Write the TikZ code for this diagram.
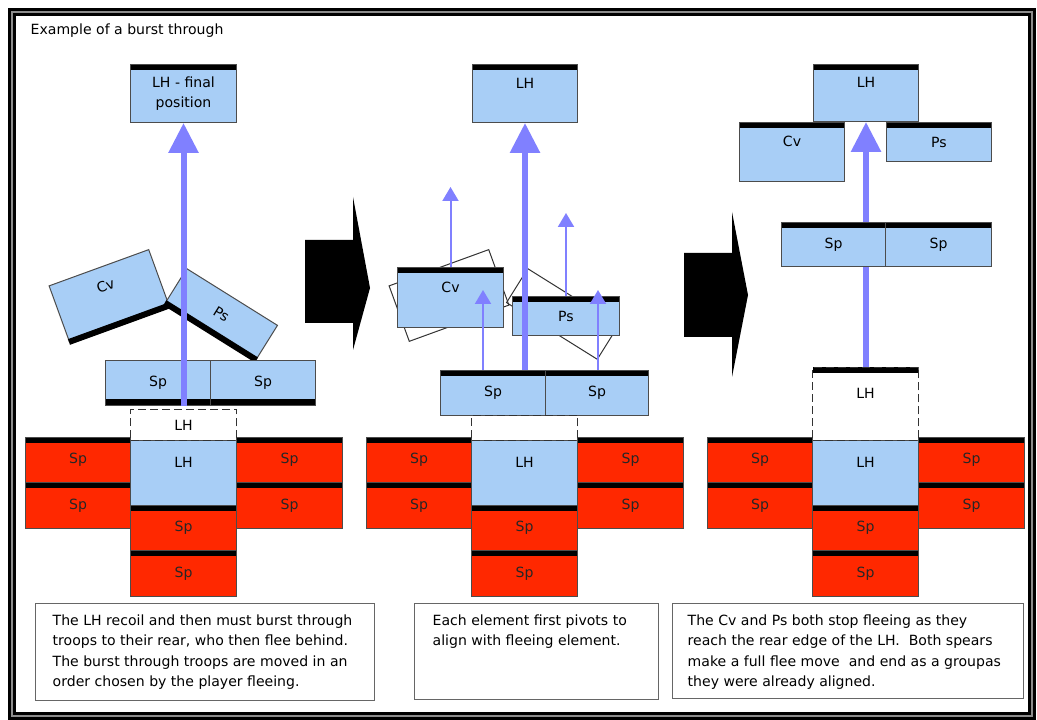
\documentclass[tikz,border=0pt]{standalone}
\usepackage{fontspec}
\setmainfont{DejaVu Sans}
\usetikzlibrary{arrows.meta}
\definecolor{lhblue}{RGB}{168,206,246}
\definecolor{spred}{RGB}{255,40,0}
\definecolor{flee}{RGB}{128,128,255}
\newcommand{\lbl}{\fontsize{4}{5.8}\selectfont}
\tikzset{
  elem/.style={draw=black!70, line width=0.01cm, inner sep=0pt, anchor=north west, align=center, font=\lbl},
  elsize/.style 2 args={minimum width=#1cm, minimum height=#2cm},
  lhb/.style={elem, fill=lhblue},
  spr/.style={elem, fill=spred, text=black!85},
  upper/.style={text height=1mm, text depth=2mm},
  frontN/.style={path picture={\fill[black] (path picture bounding box.north west) rectangle ([yshift=-0.6mm]path picture bounding box.north east);}},
  frontS/.style={path picture={\fill[black] (path picture bounding box.south west) rectangle ([yshift=0.6mm]path picture bounding box.south east);}},
  edge/.style={line width=0.06cm},
  oldpos/.style={elem, draw=black!80, dash pattern=on 0.8mm off 0.4mm},
  ghost/.style={draw=black!80, line width=0.01cm, inner sep=0pt, anchor=center},
  bigflee/.style={draw=flee, line width=0.06cm, -{Triangle[width=2.9mm,length=3mm,fill=flee]}},
  smallflee/.style={draw=flee, line width=0.02cm, -{Triangle[width=1.6mm,length=1.4mm,fill=flee]}},
  notebox/.style={draw=black!60, line width=0.01cm, inner sep=0pt, anchor=north west},
  notetext/.style={inner sep=0pt, anchor=north west, align=left, font=\lbl}
}
\begin{document}
\begin{tikzpicture}
\useasboundingbox (0,0) rectangle (10.37,7.20);
%\draw[step=1cm,gray,very thin] (0,0) grid (10,7);
\draw[line width=0.08cm] (0.12,0.04) rectangle (10.32,7.075);
\draw[black!45, line width=0.02cm] (0.12,0.04) rectangle (10.32,7.075);
\node[anchor=west, font=\lbl, inner sep=0pt] (title) at (0.30,6.89) {Example of a burst through};
%.............................
\foreach \p/\dx in {1/0,2/3.41,3/6.82}{
  \node[lhb, upper, elsize={1.06}{0.65}] (lh\p) at (1.30+\dx,2.80) {LH};
  \node[spr, frontN, elsize={1.05}{0.45}] (l\p a) at (0.25+\dx,2.83) {Sp};
  \node[spr, frontN, elsize={1.05}{0.46}] (l\p b) at (0.25+\dx,2.38) {Sp};
  \node[spr, frontN, elsize={1.06}{0.45}] (r\p a) at (2.36+\dx,2.83) {Sp};
  \node[spr, frontN, elsize={1.06}{0.46}] (r\p b) at (2.36+\dx,2.38) {Sp};
  \node[spr, frontN, elsize={1.06}{0.45}] (c\p a) at (1.30+\dx,2.15) {Sp};
  \node[spr, frontN, elsize={1.06}{0.46}] (c\p b) at (1.30+\dx,1.70) {Sp};
}
%.............................
\node[lhb, frontN, elsize={1.06}{0.58}] (p1lh) at (1.30,6.56) {LH - final\\position};
\node[lhb, upper, anchor=center, rotate=20, elsize={1.06}{0.59}] (p1cv) at (1.09,4.245) {Cv};
\node[lhb, anchor=center, rotate=-32, elsize={1.07}{0.40}] (p1ps) at (2.215,4.06) {Ps};
\draw[edge] (p1cv.south west) -- (p1cv.south east);
\draw[edge] (p1ps.south west) -- (p1ps.south east);
\node[lhb, frontS, elsize={1.05}{0.45}] (p1spa) at (1.05,3.60) {Sp};
\node[lhb, frontS, elsize={1.05}{0.45}] (p1spb) at (2.10,3.60) {Sp};
\node[oldpos, elsize={1.06}{0.31}] (p1old) at (1.30,3.11) {LH};
\draw[bigflee] (p1lh.south |- p1spa.south) -- (p1lh.south);
\fill (3.05,4.80)--(3.53,4.80)--(3.53,5.23)--(3.70,4.32)--(3.53,3.70)--(3.53,3.97)--(3.05,3.97)--cycle;
%.............................
\node[lhb, frontN, upper, elsize={1.05}{0.58}] (p2lh) at (4.72,6.56) {LH};
\node[ghost, rotate=20, elsize={1.06}{0.59}] (p2cvold) at (4.49,4.245) {};
\node[ghost, rotate=-32, elsize={1.07}{0.40}] (p2psold) at (5.625,4.06) {};
\node[lhb, frontN, upper, elsize={1.06}{0.60}] (p2cv) at (3.97,4.53) {Cv};
\node[lhb, frontN, elsize={1.07}{0.39}] (p2ps) at (5.12,4.24) {Ps};
\node[lhb, frontN, elsize={1.05}{0.45}] (p2spa) at (4.40,3.50) {Sp};
\node[lhb, frontN, elsize={1.03}{0.45}] (p2spb) at (5.45,3.50) {Sp};
\node[oldpos, elsize={1.06}{0.25}] (p2old) at (4.71,3.05) {};
\coordinate (p2cvgo) at (4.50,5.33);
\coordinate (p2psgo) at (5.67,5.07);
\coordinate (p2cvin) at (4.83,4.30);
\coordinate (p2psin) at (5.98,4.30);
\draw[smallflee] (p2cv.north) -- (p2cv.north |- p2cvgo);
\draw[smallflee] (p2ps.north) -- (p2ps.north |- p2psgo);
\draw[smallflee] (p2spa.north -| p2cvin) -- (p2cvin);
\draw[smallflee] (p2spb.north -| p2psin) -- (p2psin);
\draw[bigflee] (p2lh.south |- p2spa.north) -- (p2lh.south);
\fill (6.84,4.67)--(7.32,4.67)--(7.32,5.08)--(7.48,4.25)--(7.32,3.43)--(7.32,3.83)--(6.84,3.83)--cycle;
%.............................
\node[lhb, frontN, upper, elsize={1.05}{0.57}] (p3lh) at (8.13,6.56) {LH};
\node[lhb, frontN, upper, elsize={1.05}{0.59}] (p3cv) at (7.39,5.98) {Cv};
\node[lhb, frontN, elsize={1.05}{0.39}] (p3ps) at (8.86,5.98) {Ps};
\node[oldpos, frontN, upper, elsize={1.06}{0.73}] (p3old) at (8.12,3.53) {LH};
\draw[bigflee] (p3lh.south |- p3old.north) -- (p3lh.south);
\node[lhb, frontN, elsize={1.04}{0.44}] (p3spa) at (7.81,4.98) {Sp};
\node[lhb, frontN, elsize={1.06}{0.44}] (p3spb) at (8.85,4.98) {Sp};
%.............................
\node[notebox, elsize={3.39}{0.97}] (note1) at (0.35,1.17) {};
\node[notetext] (note1txt) at (0.52,1.06) {The LH recoil and then must burst through\\troops to their rear, who then flee behind.\\The burst through troops are moved in an\\order chosen by the player fleeing.};
\node[notebox, elsize={2.44}{0.96}] (note2) at (4.14,1.17) {};
\node[notetext] (note2txt) at (4.32,1.06) {Each element first pivots to\\align with fleeing element.};
\node[notebox, elsize={3.51}{0.95}] (note3) at (6.72,1.17) {};
\node[notetext] (note3txt) at (6.87,1.06) {The Cv and Ps both stop fleeing as they\\reach the rear edge of the LH.\ \ Both spears\\make a full flee move\ \ and end as a groupas\\they were already aligned.};
\end{tikzpicture}
\end{document}
